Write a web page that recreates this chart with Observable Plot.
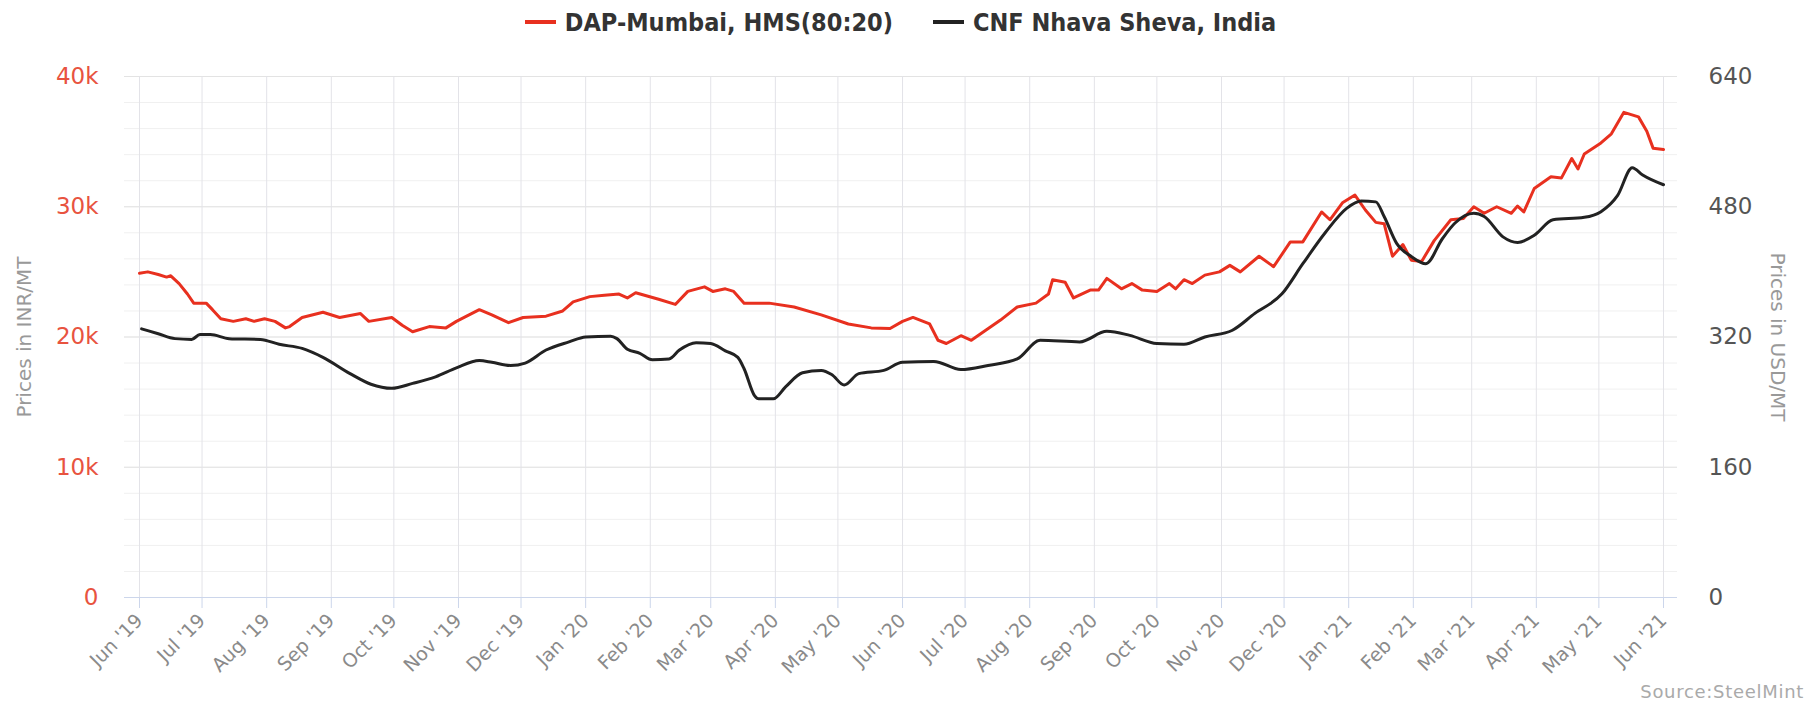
<!DOCTYPE html>
<html>
<head>
<meta charset="utf-8">
<script src="https://cdn.jsdelivr.net/npm/d3@7"></script>
<script src="https://cdn.jsdelivr.net/npm/@observablehq/plot@0.6"></script>
<style>
  html, body { margin: 0; padding: 0; background: #fff; }
  body { width: 1818px; height: 701px; overflow: hidden; font-family: "DejaVu Sans", sans-serif; }
  #legend { height: 44px; display: flex; align-items: center; justify-content: center; padding-right: 17px;
            font-family: "DejaVu Sans Condensed", "DejaVu Sans", sans-serif; font-weight: 700; font-size: 25px; color: #333; }
  .item { display: flex; align-items: center; }
  .item + .item { margin-left: 40px; }
  .sw { width: 31px; height: 4px; margin-right: 9px; }
  #chart svg { display: block; }
  #caption { height: 19px; line-height: 19px; text-align: right; padding-right: 14px; font-size: 18px; color: #aaa; letter-spacing: 0.7px; }
</style>
</head>
<body>
<div id="legend"></div>
<div id="chart"></div>
<div id="caption"></div>
<script>
// ---- data ----
const seriesNames = ["DAP-Mumbai, HMS(80:20)", "CNF Nhava Sheva, India"];
const seriesColors = ["#e8301f", "#222222"];
const sourceText = "Source:SteelMint";
const leftAxisTitle = "Prices in INR/MT";
const rightAxisTitle = "Prices in USD/MT";

const inrTicks = [0, 10000, 20000, 30000, 40000];
const inrTickLabels = ["0", "10k", "20k", "30k", "40k"];
const usdTickLabels = ["0", "160", "320", "480", "640"];

const dapDates = ["2019-06-01","2019-06-05","2019-06-10","2019-06-14","2019-06-16","2019-06-20","2019-06-24","2019-06-27","2019-07-03","2019-07-06","2019-07-10","2019-07-16","2019-07-22","2019-07-26","2019-07-31","2019-08-05","2019-08-10","2019-08-12","2019-08-18","2019-08-28","2019-09-05","2019-09-15","2019-09-19","2019-09-30","2019-10-05","2019-10-10","2019-10-18","2019-10-26","2019-10-31","2019-11-11","2019-11-17","2019-11-25","2019-12-02","2019-12-13","2019-12-21","2019-12-26","2020-01-03","2020-01-10","2020-01-17","2020-01-21","2020-01-25","2020-02-05","2020-02-13","2020-02-19","2020-02-27","2020-03-02","2020-03-08","2020-03-12","2020-03-17","2020-03-29","2020-04-10","2020-04-23","2020-05-06","2020-05-17","2020-05-26","2020-06-01","2020-06-06","2020-06-14","2020-06-18","2020-06-22","2020-06-29","2020-07-04","2020-07-09","2020-07-18","2020-07-26","2020-08-04","2020-08-10","2020-08-12","2020-08-18","2020-08-22","2020-08-30","2020-09-03","2020-09-07","2020-09-14","2020-09-19","2020-09-24","2020-10-01","2020-10-07","2020-10-10","2020-10-14","2020-10-18","2020-10-24","2020-10-31","2020-11-05","2020-11-10","2020-11-19","2020-11-26","2020-12-04","2020-12-10","2020-12-19","2020-12-23","2020-12-29","2021-01-04","2021-01-09","2021-01-14","2021-01-18","2021-01-22","2021-01-27","2021-01-31","2021-02-05","2021-02-11","2021-02-19","2021-02-25","2021-03-02","2021-03-07","2021-03-13","2021-03-20","2021-03-23","2021-03-26","2021-03-31","2021-04-08","2021-04-13","2021-04-18","2021-04-21","2021-04-24","2021-05-02","2021-05-07","2021-05-13","2021-05-20","2021-05-24","2021-05-27","2021-06-01"];
const dapInr = [24900,25000,24800,24600,24700,24100,23300,22600,22600,22100,21400,21200,21400,21200,21400,21200,20700,20800,21500,21900,21500,21800,21200,21500,20900,20400,20800,20700,21200,22100,21700,21100,21500,21600,22000,22700,23100,23200,23300,23000,23400,22900,22500,23500,23850,23500,23700,23500,22600,22600,22300,21700,21000,20700,20650,21200,21500,21000,19750,19500,20100,19750,20300,21300,22300,22600,23300,24400,24200,23000,23600,23600,24500,23700,24100,23600,23500,24100,23700,24400,24100,24750,25000,25500,25000,26200,25400,27300,27300,29600,29000,30300,30900,29750,28800,28700,26200,27100,25900,25800,27400,29000,29100,30000,29500,30000,29500,30050,29600,31400,32300,32200,33700,32900,34050,34900,35600,37250,36900,35800,34500,34400];

const cnfDates = ["2019-06-02","2019-06-10","2019-06-18","2019-06-26","2019-06-30","2019-07-05","2019-07-14","2019-07-29","2019-08-07","2019-08-18","2019-08-28","2019-09-10","2019-09-20","2019-09-30","2019-10-10","2019-10-21","2019-10-31","2019-11-11","2019-11-17","2019-11-26","2019-12-03","2019-12-13","2019-12-24","2020-01-01","2020-01-13","2020-01-16","2020-01-21","2020-01-27","2020-02-02","2020-02-10","2020-02-15","2020-02-23","2020-03-01","2020-03-08","2020-03-14","2020-03-17","2020-03-22","2020-03-24","2020-03-31","2020-04-06","2020-04-14","2020-04-23","2020-04-28","2020-05-04","2020-05-11","2020-05-23","2020-06-01","2020-06-16","2020-06-29","2020-07-12","2020-07-26","2020-08-06","2020-08-25","2020-09-07","2020-09-18","2020-10-01","2020-10-14","2020-10-24","2020-11-06","2020-11-17","2020-11-30","2020-12-10","2020-12-21","2020-12-31","2021-01-07","2021-01-14","2021-01-18","2021-01-24","2021-01-31","2021-02-07","2021-02-15","2021-02-21","2021-03-02","2021-03-07","2021-03-16","2021-03-23","2021-03-31","2021-04-09","2021-04-24","2021-05-02","2021-05-10","2021-05-17","2021-05-22","2021-06-01"];
const cnfUsd = [330,324,318,317,323,323,318,317,311,306,295,275,262,257,263,271,282,291,289,285,288,304,314,320,321,318,305,300,292,293,304,313,312,303,295,281,248,244,244,259,276,279,274,261,275,279,289,290,280,285,293,316,314,327,322,312,311,320,328,349,373,410,449,478,487,486,468,435,419,410,441,460,472,468,443,436,445,464,467,474,494,528,519,507];

// ---- build ----
const parse = d3.utcParse("%Y-%m-%d");
const dap = dapDates.map((d, i) => ({date: parse(d), inr: dapInr[i]}));
const cnf = cnfDates.map((d, i) => ({date: parse(d), usd: cnfUsd[i]}));
const usdToInrAxis = 40000 / 640;
const xStart = parse("2019-06-01"), xEnd = parse("2021-06-01");
const monthTicks = d3.utcMonth.range(xStart, d3.utcDay.offset(xEnd, 1));
const minorY = d3.range(0, 40001, 2000);

// legend
const legend = document.getElementById("legend");
seriesNames.forEach((name, i) => {
  const item = document.createElement("div");
  item.className = "item";
  const sw = document.createElement("span");
  sw.className = "sw";
  sw.style.background = seriesColors[i];
  const t = document.createElement("span");
  t.textContent = name;
  item.appendChild(sw); item.appendChild(t);
  legend.appendChild(item);
});
document.getElementById("caption").textContent = sourceText;

const chart = Plot.plot({
  width: 1818,
  height: 638,
  marginTop: 32,
  marginBottom: 85,
  marginLeft: 124,
  marginRight: 141,
  style: {fontFamily: "'DejaVu Sans', sans-serif", background: "white", overflow: "visible"},
  x: {type: "utc", domain: [xStart, xEnd], insetLeft: 15, insetRight: 14},
  y: {domain: [0, 40000]},
  marks: [
    Plot.ruleY(minorY, {stroke: "#f0f0f0"}),
    Plot.ruleY(inrTicks, {stroke: "#e3e3e3"}),
    Plot.ruleX(monthTicks, {stroke: "#e3e3e8"}),
    Plot.ruleY([0], {stroke: "#ccd6eb"}),
    Plot.axisX({ticks: monthTicks, tickFormat: d3.utcFormat("%b '%y"), tickRotate: -45, tickSize: 11, tickPadding: 9,
                stroke: "#ccd6eb", fill: "#8a8a8a", fontSize: 19, letterSpacing: 2.2, label: null}),
    Plot.axisY({anchor: "left", ticks: inrTicks, tickFormat: d => inrTickLabels[inrTicks.indexOf(d)],
                tickSize: 0, tickPadding: 26, fill: "#e8533f", fontSize: 23, letterSpacing: 1.2, label: null}),
    Plot.axisY({anchor: "right", ticks: inrTicks, tickFormat: d => usdTickLabels[inrTicks.indexOf(d)],
                tickSize: 0, tickPadding: 31, fill: "#555", fontSize: 23, letterSpacing: 1.2, label: null}),
    Plot.text([leftAxisTitle], {frameAnchor: "left", dx: -100, rotate: -90, textAnchor: "middle",
                                fill: "#999", fontSize: 20, letterSpacing: 1.6}),
    Plot.text([rightAxisTitle], {frameAnchor: "right", dx: 100, rotate: 90, textAnchor: "middle",
                                 fill: "#999", fontSize: 20, letterSpacing: 1.6}),
    Plot.line(dap, {x: "date", y: "inr", stroke: seriesColors[0], strokeWidth: 3}),
    Plot.line(cnf, {x: "date", y: d => d.usd * usdToInrAxis, stroke: seriesColors[1], strokeWidth: 3, curve: "monotone-x"})
  ]
});
document.getElementById("chart").appendChild(chart);
</script>
</body>
</html>
